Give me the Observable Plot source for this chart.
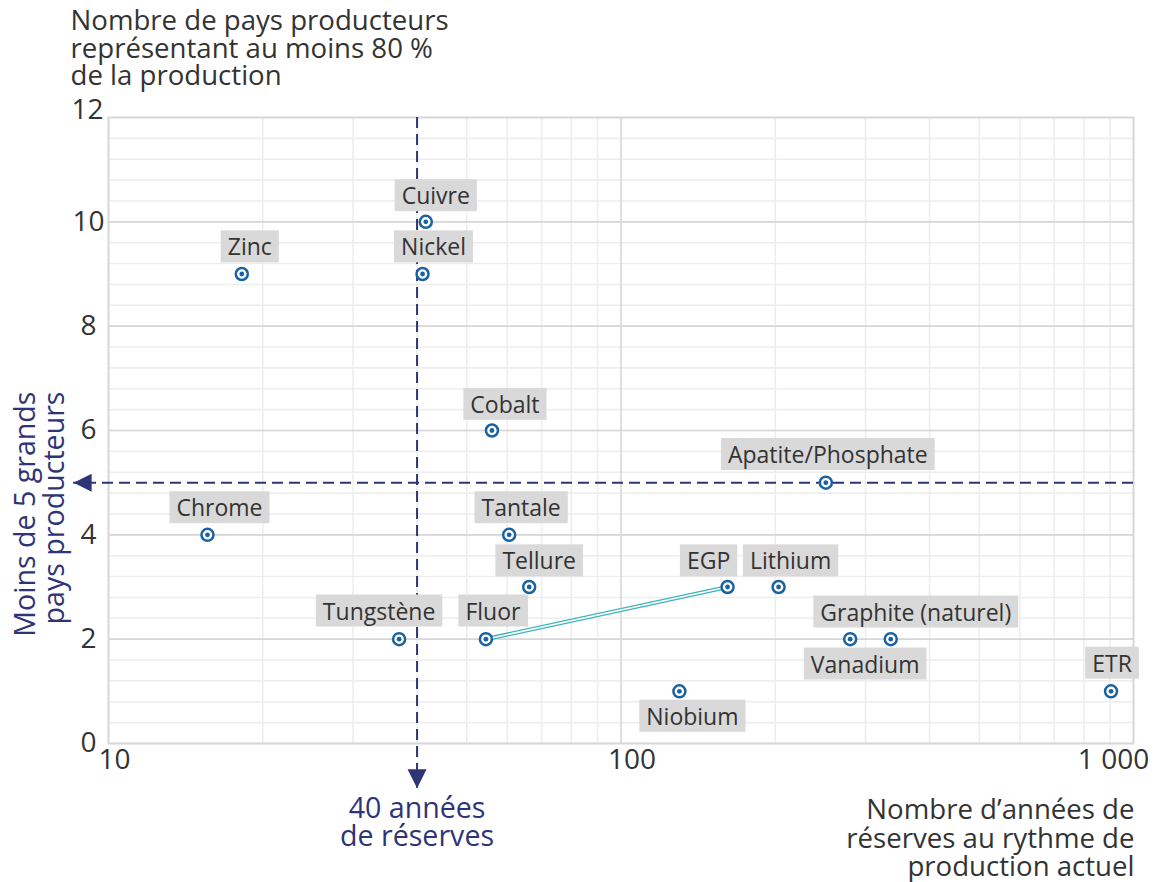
<!DOCTYPE html>
<html><head><meta charset="utf-8">
<script src="https://cdn.jsdelivr.net/npm/d3@7"></script>
<script src="https://cdn.jsdelivr.net/npm/@observablehq/plot@0.6"></script>
<style>body{margin:0;background:#fff;}</style>
</head><body><div id="chart"></div>
<script>
// ---- data ----
const minerals = ["Zinc","Chrome","Cuivre","Nickel","Tungstène","Cobalt","Tantale","Tellure","Fluor","EGP","Lithium","Niobium","Apatite/Phosphate","Vanadium","Graphite (naturel)","ETR"];
const reserveYears = [18.2,15.6,41.6,41.0,36.9,56.0,60.5,66.2,54.5,161.4,203,130,251,280,336,904];
const producerCount = [9,4,10,9,2,6,4,3,2,3,3,1,5,2,2,1];
const linkedMinerals = ["Fluor","EGP"];
const xTickValues = [10,100,1000];
const xTickLabels = ["10","100","1 000"];
const yTickValues = [0,2,4,6,8,10,12];
const xMinorTicks = [20,30,40,50,60,70,80,90,200,300,400,500,600,700,800,900];
const reserveThreshold = 40;
const producerThreshold = 5;
const yTitle = "Nombre de pays producteurs\nreprésentant au moins 80 %\nde la production";
const xTitle = "Nombre d’années de\nréserves au rythme de\nproduction actuel";
const vLabel = "40 années\nde réserves";
const hLabel = "Moins de 5 grands\npays producteurs";

// ---- layout (pixel offsets of labels) ----
const labelOffsets = {
  "Zinc":[8,-26], "Chrome":[12,-26], "Cuivre":[10,-25], "Nickel":[11,-26],
  "Tungstène":[-20,-27], "Cobalt":[13,-25], "Tantale":[12,-26], "Tellure":[10,-25],
  "Fluor":[7,-27], "EGP":[-19,-25], "Lithium":[12,-25], "Niobium":[13,26],
  "Apatite/Phosphate":[2,-27], "Vanadium":[15,26], "Graphite (naturel)":[25,-26], "ETR":[1,-27]
};
const xTickShift = [6,11,-20];

const navy = "#2e3576", blue = "#1b62a3", teal = "#3db3bb", ink = "#333333";
const font = "Open Sans";

const data = minerals.map((name,i)=>({name, x:reserveYears[i], y:producerCount[i]}));
const link = data.filter(d=>linkedMinerals.includes(d.name));
const yMinor = d3.range(0, 12.001, 0.4);

const triDown = {draw(ctx, size){ const h = Math.sqrt(size)*1.34, w = h/2; ctx.moveTo(0,0); ctx.lineTo(-w,-h); ctx.lineTo(w,-h); ctx.closePath(); }};
const triLeft = {draw(ctx, size){ const h = Math.sqrt(size)*1.27, w = h/2; ctx.moveTo(0,0); ctx.lineTo(h,-w); ctx.lineTo(h,w); ctx.closePath(); }};

const marks = [
  Plot.ruleX(xMinorTicks, {stroke:"#eeeeee", strokeWidth:1.6}),
  Plot.ruleY(yMinor, {stroke:"#eeeeee", strokeWidth:1.6}),
  Plot.ruleX(xTickValues, {stroke:"#d7d7d7", strokeWidth:1.6}),
  Plot.ruleY(yTickValues, {stroke:"#d7d7d7", strokeWidth:1.6}),
  Plot.frame({stroke:"#d7d7d7", strokeWidth:1.6}),
  // thresholds
  Plot.ruleX([reserveThreshold], {y1:12, y2:-0.86, stroke:navy, strokeWidth:2, strokeDasharray:"11,6"}),
  Plot.ruleY([producerThreshold], {x1:1000, x2:8.55, stroke:navy, strokeWidth:2, strokeDasharray:"11,6"}),
  Plot.dot([{x:reserveThreshold, y:-0.86}], {x:"x", y:"y", symbol:triDown, r:8, fill:navy, stroke:null}),
  Plot.dot([{x:8.55, y:producerThreshold}], {x:"x", y:"y", symbol:triLeft, r:8, fill:navy, stroke:null}),
  // link
  Plot.line(link, {x:"x", y:"y", stroke:teal, strokeWidth:4.2}),
  Plot.line(link, {x:"x", y:"y", stroke:"white", strokeWidth:1.6}),
  // points
  Plot.dot(data, {x:"x", y:"y", r:6, fill:"white", stroke:blue, strokeWidth:2.5}),
  Plot.dot(data, {x:"x", y:"y", r:2.4, fill:blue}),
  // point labels
  ...data.map(d => Plot.text([d], {x:"x", y:"y", text:"name", dx:labelOffsets[d.name][0], dy:labelOffsets[d.name][1], fontSize:23, fill:ink})),
  // y ticks
  Plot.text(yTickValues.filter(v=>v!==12), {y:d=>d, text:d=>String(d), frameAnchor:"left", dx:-20, textAnchor:"middle", fontSize:28, fill:ink}),
  Plot.text([12], {y:d=>d, text:d=>String(d), frameAnchor:"left", dx:-21, dy:-7, textAnchor:"middle", fontSize:28, fill:ink}),
  // x ticks
  ...xTickValues.map((v,i) => Plot.text([v], {x:d=>d, text:()=>xTickLabels[i], frameAnchor:"bottom", dx:xTickShift[i], dy:25, textAnchor:"middle", fontSize:28, fill:ink})),
  // titles
  Plot.text([yTitle], {frameAnchor:"top-left", dx:-38, dy:-107, textAnchor:"start", lineAnchor:"top", lineHeight:1.0, fontSize:27.6, fill:ink}),
  Plot.text([xTitle], {frameAnchor:"bottom-right", dx:1, dy:55, textAnchor:"end", lineAnchor:"top", lineHeight:1.04, fontSize:27.6, fill:ink}),
  Plot.text([vLabel], {x:()=>reserveThreshold, frameAnchor:"bottom", dy:55, textAnchor:"middle", lineAnchor:"top", lineHeight:0.98, fontSize:28.6, fill:navy}),
  Plot.text([hLabel], {frameAnchor:"top-left", dx:-95, dy:274, rotate:-90, textAnchor:"end", lineAnchor:"top", lineHeight:1.04, fontSize:28.6, fill:navy})
];

const plot = Plot.plot({
  width:1163, height:882,
  marginLeft:108, marginRight:30, marginTop:117, marginBottom:139,
  x:{type:"log", domain:[10,1000], axis:null},
  y:{domain:[0,12], axis:null},
  style:{fontFamily:font, background:"#fff", overflow:"visible"},
  marks
});
document.getElementById("chart").append(plot);

// gray label backgrounds sized from the rendered text
plot.querySelectorAll("text").forEach(t => {
  if (!minerals.includes(t.textContent)) return;
  const b = t.getBBox();
  const r = document.createElementNS("http://www.w3.org/2000/svg","rect");
  r.setAttribute("x", b.x - 7); r.setAttribute("y", b.y);
  r.setAttribute("width", b.width + 14); r.setAttribute("height", b.height);
  r.setAttribute("fill", "#d9d9d9");
  if (t.getAttribute("transform")) r.setAttribute("transform", t.getAttribute("transform"));
  t.parentNode.insertBefore(r, t);
});
</script>
</body></html>
